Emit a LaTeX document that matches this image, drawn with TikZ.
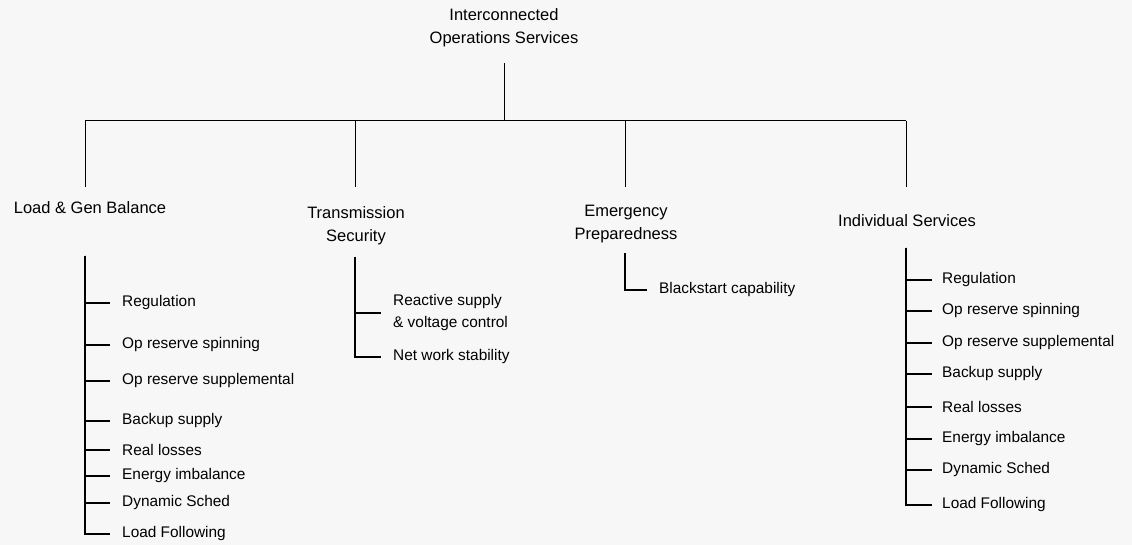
\documentclass[tikz,border=0pt]{standalone}
\usepackage{fontspec}
\setmainfont{Liberation Sans}
\usepackage[svgnames]{xcolor}
\usepackage{tikz}
\usetikzlibrary{positioning, calc}

\definecolor{paper}{RGB}{247,247,247}

\tikzset{
    head/.style={align=center, inner sep=0pt, font=\fontsize{16.5}{23}\selectfont},
    item/.style={anchor=west, align=left, inner sep=0pt, font=\fontsize{15.4}{22}\selectfont},
    branch/.style={black, line width=1pt},
    twig/.style={black, line width=1.1pt, shorten >=12pt},
}

\begin{document}
\begin{tikzpicture}[x=1pt, y=-1pt]
            % paper
            \fill[paper] (0,0) rectangle (1132,545);
            \useasboundingbox (0,0) rectangle (1132,545);

            % top and the four groups
            \node[head] (root) at (504,28) {Interconnected\\Operations Services};
            \node[head] (lgb) at (90,208) {Load \& Gen Balance};
            \node[head] (trans) at (356,226) {Transmission\\Security};
            \node[head] (emerg) at (626,224) {Emergency\\Preparedness};
            \node[head] (indiv) at (907,221) {Individual Services};

            % stems
            \coordinate (lgbStem) at (85,256);
            \coordinate (transStem) at (355,257);
            \coordinate (emergStem) at (625,253);
            \coordinate (indivStem) at (906,248);

            \coordinate (bus) at (504,121);
            \coordinate (dropend) at (0,187);

            % draw bus and drops
            \draw[branch, shorten <=16pt] (root.south) -- (bus);
            \draw[branch] (lgbStem |- bus) -- (indivStem |- bus);
            \foreach \grp in {lgb,trans,emerg,indiv}
            {
                \draw[branch] (\grp Stem |- bus) -- (\grp Stem |- dropend);
            }

            % load and gen balance
            \foreach \n/\y/\txt in {1/303/Regulation, 2/345/Op reserve spinning,
                3/381/Op reserve supplemental, 4/421/Backup supply, 5/450/Real losses,
                6/476/Energy imbalance, 7/503/Dynamic Sched, 8/534/Load Following}
            {
                \node[item] (lgb\n) at (122,\y) {\txt};
                \draw[twig] (lgbStem) |- (lgb\n.west);
            }

            % transmission security
            \node[item] (trans1) at (393,313) {Reactive supply\\\& voltage control};
            \node[item] (trans2) at (393,357) {Net work stability};
            \draw[twig] (transStem) |- (trans1.west);
            \draw[twig] (transStem) |- (trans2.west);

            % emergency preparedness
            \node[item] (emerg1) at (659,290) {Blackstart capability};
            \draw[twig] (emergStem) |- (emerg1.west);

            % individual services
            \foreach \n/\y/\txt in {1/280/Regulation, 2/311/Op reserve spinning,
                3/343/Op reserve supplemental, 4/374/Backup supply, 5/407/Real losses,
                6/439/Energy imbalance, 7/470/Dynamic Sched, 8/505/Load Following}
            {
                \node[item] (indiv\n) at (942,\y) {\txt};
                \draw[twig, shorten >=10pt] (indivStem) |- (indiv\n.west);
            }
\end{tikzpicture}
\end{document}
